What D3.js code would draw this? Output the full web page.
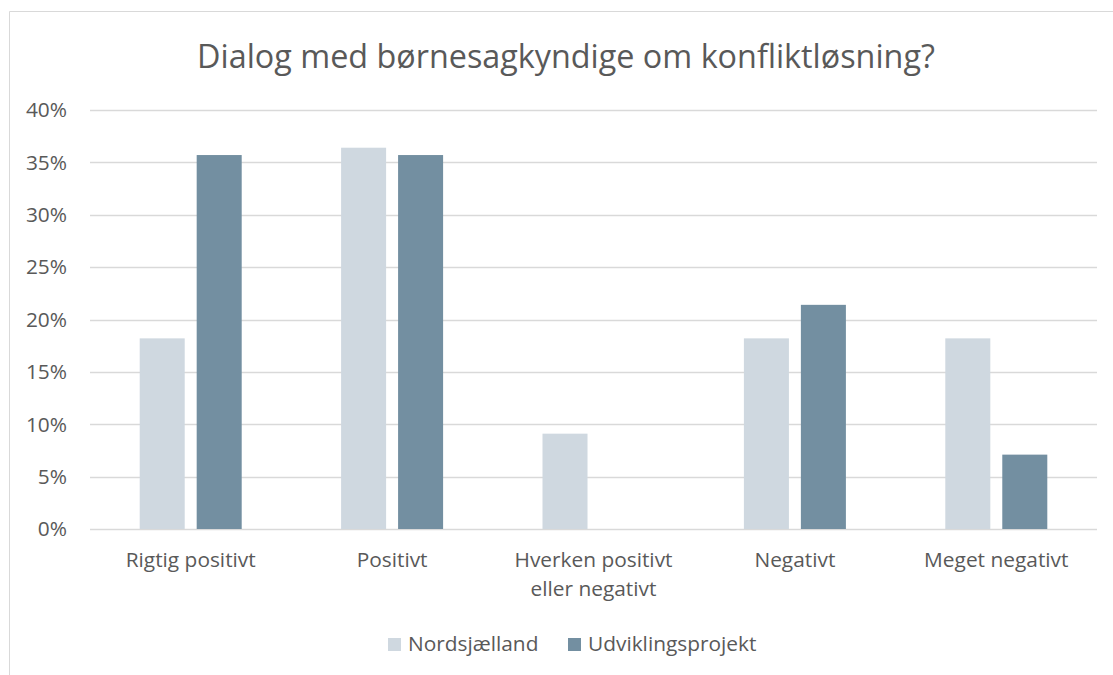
<!DOCTYPE html>
<html>
<head>
<meta charset="utf-8">
<script src="https://cdn.jsdelivr.net/npm/d3@7"></script>
<style>
  body { margin: 0; background: #fff; }
  svg { display: block; font-family: "Open Sans", "Noto Sans", sans-serif; }
</style>
</head>
<body>
<div id="chart"></div>
<script>
const width = 1113
const height = 675

const title = 'Dialog med børnesagkyndige om konfliktløsning?'
const categories = [
  ['Rigtig positivt'],
  ['Positivt'],
  ['Hverken positivt', 'eller negativt'],
  ['Negativt'],
  ['Meget negativt']
]
const seriesNames = ['Nordsjælland', 'Udviklingsprojekt']
const nordsjaelland = [18.2, 36.4, 9.1, 18.2, 18.2]
const udvikling = [35.7, 35.7, 0, 21.4, 7.1]
const yTicks = [0, 5, 10, 15, 20, 25, 30, 35, 40]
const colors = ['#cfd8e0', '#738fa1']

const margin = {top: 110, right: 16, bottom: 146, left: 90}
const svg = d3.select('#chart').append('svg')
  .attr('width', width)
  .attr('height', height)

// chart border (top and left visible)
svg.append('path')
  .attr('d', `M9.5,${height} V11.5 H${width}`)
  .attr('fill', 'none')
  .attr('stroke', '#d9d9d9')

const x0 = d3.scaleBand()
  .domain(d3.range(categories.length))
  .range([margin.left, width - margin.right])

const x1 = d3.scaleBand()
  .domain(d3.range(seriesNames.length))
  .range([0, 102])
  .paddingInner(0.21)

const y = d3.scaleLinear()
  .domain([0, 40])
  .range([height - margin.bottom, margin.top])

// gridlines
svg.append('g')
  .selectAll('line')
  .data(yTicks)
  .join('line')
  .attr('x1', margin.left)
  .attr('x2', width - margin.right)
  .attr('y1', d => Math.round(y(d)) + 0.5)
  .attr('y2', d => Math.round(y(d)) + 0.5)
  .attr('stroke', '#d9d9d9')
  .attr('stroke-width', 1.3)

// y labels
const yLabels = svg.append('g')
  .selectAll('text')
  .data(yTicks)
  .join('text')
  .attr('x', 67)
  .attr('y', d => y(d))
  .attr('dy', '0.35em')
  .attr('text-anchor', 'end')
  .attr('fill', '#595959')
  .attr('font-size', 18)
  .text(d => d + '%')

const series = [nordsjaelland, udvikling]
const groups = svg.append('g')
  .selectAll('g')
  .data(categories.map((c, i) => i))
  .join('g')
  .attr('transform', i => `translate(${x0(i) + x0.bandwidth() / 2 - 51},0)`)

groups.selectAll('rect')
  .data(i => series.map((s, k) => ({k, v: s[i]})))
  .join('rect')
  .attr('x', d => x1(d.k))
  .attr('width', x1.bandwidth())
  .attr('y', d => y(d.v))
  .attr('height', d => y(0) - y(d.v))
  .attr('fill', d => colors[d.k])

// category labels
const catLabels = svg.append('g')
  .selectAll('text')
  .data(categories)
  .join('text')
  .attr('text-anchor', 'middle')
  .attr('fill', '#595959')
  .attr('font-size', 16)
  .attr('x', (d, i) => x0(i) + x0.bandwidth() / 2)
  .attr('y', 567)

catLabels.selectAll('tspan')
  .data(d => d)
  .join('tspan')
  .attr('x', function () { return this.parentNode.getAttribute('x') })
  .attr('dy', (d, i) => i ? 29 : 0)
  .text(d => d)

// fit label size to the reference widths
const probe = catLabels.filter((d, i) => i === 0).node()
const catSize = 16 * 130 / probe.getComputedTextLength()
catLabels.attr('font-size', catSize)
yLabels.attr('font-size', catSize)

// title
const titleEl = svg.append('text')
  .attr('x', 566)
  .attr('y', 68)
  .attr('text-anchor', 'middle')
  .attr('fill', '#595959')
  .attr('font-size', 28)
  .text(title)
titleEl.attr('font-size', 28 * 738 / titleEl.node().getComputedTextLength())

// legend
const legend = svg.append('g')
const legendX = [388, 568]
seriesNames.forEach((name, k) => {
  legend.append('rect')
    .attr('x', legendX[k])
    .attr('y', 638)
    .attr('width', 13)
    .attr('height', 13)
    .attr('fill', colors[k])
  legend.append('text')
    .attr('x', legendX[k] + 20)
    .attr('y', 651)
    .attr('fill', '#595959')
    .attr('font-size', catSize)
    .text(name)
})
</script>
</body>
</html>
